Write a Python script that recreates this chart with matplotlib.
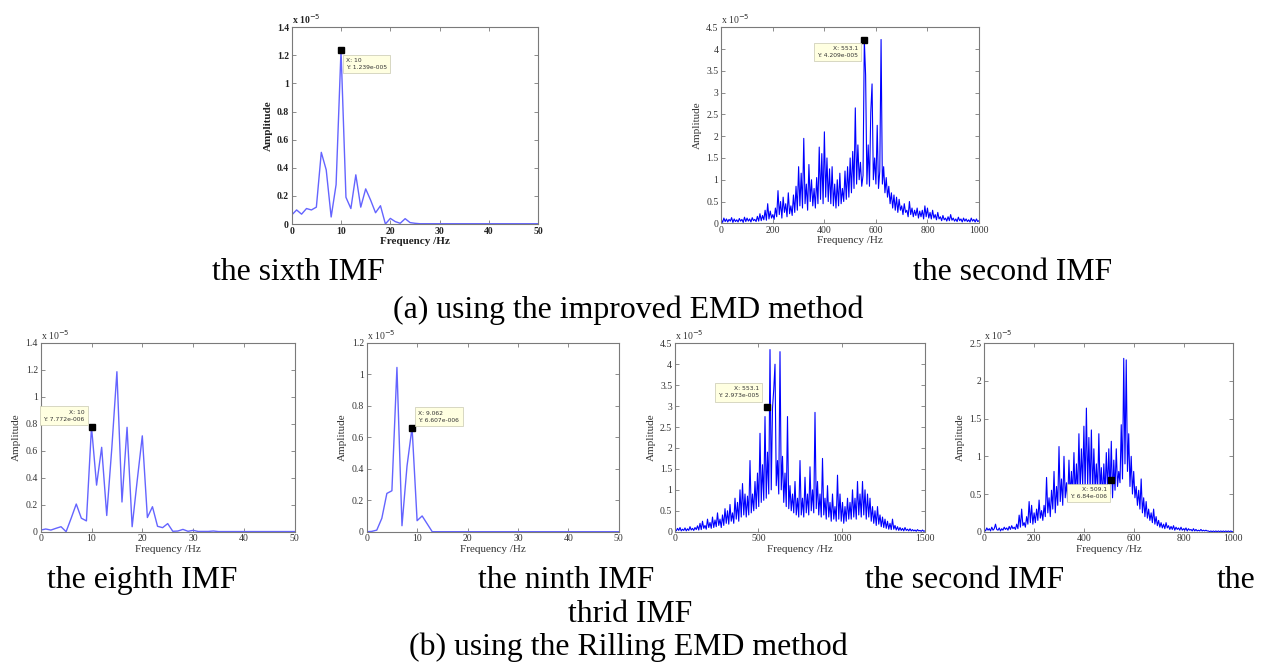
import matplotlib
matplotlib.use("Agg")
import matplotlib.pyplot as plt
from matplotlib.ticker import FuncFormatter

# ---------------- data (amplitudes in units of 1e-5) ----------------
# (a) improved EMD, sixth IMF : 0..50 Hz, 1 Hz step
f_sixth = list(range(0, 51))
a_sixth = [0.064, 0.10, 0.07, 0.11, 0.10, 0.12, 0.51, 0.385, 0.05, 0.28,
           1.239, 0.19, 0.11, 0.35, 0.12, 0.25, 0.17, 0.08, 0.13, 0.0,
           0.04, 0.017, 0.005, 0.038, 0.01, 0.005, 0.002, 0.002, 0.002, 0.002,
           0.002, 0.002, 0.002, 0.002, 0.002, 0.002, 0.002, 0.002, 0.002, 0.002,
           0.002, 0.002, 0.002, 0.002, 0.002, 0.002, 0.002, 0.002, 0.002, 0.002,
           0.002]

# (a) improved EMD, second IMF : 0..1000 Hz, 5 Hz step
f_second_a = [i * 5 for i in range(201)]
a_second_a = [
    0.08, 0.02, 0.12, 0.04, 0.10, 0.03, 0.09, 0.05, 0.13, 0.02,
    0.10, 0.04, 0.08, 0.03, 0.11, 0.05, 0.09, 0.02, 0.14, 0.04,
    0.12, 0.05, 0.10, 0.03, 0.13, 0.06, 0.09, 0.04, 0.16, 0.05,
    0.22, 0.06, 0.18, 0.08, 0.30, 0.07, 0.45, 0.10, 0.28, 0.12,
    0.20, 0.09, 0.35, 0.15, 0.75, 0.20, 0.50, 0.12, 0.60, 0.25,
    0.45, 0.15, 0.70, 0.22, 0.40, 0.18, 0.65, 0.25, 0.85, 0.30,
    1.30, 0.40, 1.15, 0.35, 1.95, 0.45, 0.90, 0.30, 1.35, 0.50,
    1.00, 0.40, 0.80, 0.35, 1.05, 0.45, 1.75, 0.55, 1.60, 0.45,
    2.10, 0.60, 1.50, 0.50, 1.25, 0.45, 1.30, 0.40, 0.90, 0.35,
    1.00, 0.40, 1.15, 0.45, 0.80, 0.50, 1.20, 0.55, 1.30, 0.60,
    1.50, 0.70, 1.65, 0.80, 2.65, 0.90, 1.80, 1.00, 1.40, 0.85,
    1.10, 4.21, 3.40, 0.90, 1.80, 0.85, 2.55, 3.20, 1.00, 1.50,
    0.90, 2.25, 0.80, 1.20, 4.22, 0.90, 1.30, 0.70, 1.05, 0.60,
    0.85, 0.45, 0.70, 0.35, 0.65, 0.30, 0.60, 0.25, 0.55, 0.30,
    0.40, 0.20, 0.45, 0.25, 0.30, 0.15, 0.50, 0.20, 0.35, 0.15,
    0.30, 0.18, 0.35, 0.12, 0.28, 0.15, 0.30, 0.10, 0.40, 0.15,
    0.35, 0.12, 0.25, 0.10, 0.30, 0.12, 0.20, 0.08, 0.25, 0.10,
    0.15, 0.06, 0.18, 0.08, 0.12, 0.05, 0.15, 0.06, 0.20, 0.07,
    0.12, 0.05, 0.10, 0.04, 0.14, 0.06, 0.10, 0.03, 0.12, 0.05,
    0.10, 0.04, 0.08, 0.03, 0.12, 0.05, 0.09, 0.03, 0.10, 0.04,
    0.06]

# (b) Rilling EMD, eighth IMF : 0..50 Hz
f_eighth = list(range(0, 51))
a_eighth = [0.012, 0.02, 0.012, 0.025, 0.037, 0.0, 0.10, 0.205, 0.10, 0.08,
            0.777, 0.345, 0.625, 0.12, 0.62, 1.185, 0.22, 0.773, 0.037, 0.38,
            0.71, 0.105, 0.185, 0.04, 0.03, 0.06, 0.003, 0.005, 0.017, 0.003,
            0.01, 0.002, 0.002, 0.002, 0.005, 0.001, 0.001, 0.001, 0.001, 0.001,
            0.001, 0.001, 0.001, 0.001, 0.001, 0.001, 0.001, 0.001, 0.001, 0.001,
            0.001]

# (b) Rilling EMD, ninth IMF : 0..50 Hz
f_ninth = list(range(0, 51))
a_ninth = [0.0, 0.002, 0.01, 0.085, 0.243, 0.26, 1.043, 0.038, 0.417, 0.662,
           0.07, 0.10, 0.05, 0.0] + [0.0] * 37

# (b) Rilling EMD, second IMF : 0..1500 Hz, 7.5 Hz step
f_second_b = [i * 7.5 for i in range(201)]
a_second_b = [
    0.05, 0.02, 0.08, 0.03, 0.10, 0.02, 0.06, 0.03, 0.09, 0.02,
    0.07, 0.03, 0.12, 0.04, 0.08, 0.03, 0.10, 0.05, 0.14, 0.04,
    0.20, 0.05, 0.25, 0.08, 0.15, 0.06, 0.30, 0.10, 0.22, 0.08,
    0.35, 0.10, 0.28, 0.12, 0.45, 0.15, 0.30, 0.10, 0.40, 0.15,
    0.55, 0.20, 0.50, 0.18, 0.65, 0.25, 0.45, 0.20, 0.80, 0.30,
    0.70, 0.25, 1.00, 0.35, 1.15, 0.40, 0.90, 0.35, 0.85, 0.40,
    1.70, 0.45, 0.90, 0.50, 1.20, 0.55, 1.40, 0.60, 2.35, 0.70,
    1.60, 0.75, 2.75, 0.80, 1.90, 0.90, 4.35, 1.00, 2.95, 3.40,
    4.00, 1.10, 1.70, 0.90, 4.30, 1.00, 1.80, 0.70, 1.40, 0.60,
    2.75, 0.55, 1.10, 0.50, 0.90, 0.45, 1.20, 0.40, 0.80, 0.35,
    1.70, 0.40, 0.80, 0.35, 1.30, 0.45, 0.90, 0.40, 1.55, 0.50,
    1.00, 0.45, 2.85, 0.55, 1.20, 0.40, 0.90, 0.35, 1.75, 0.40,
    0.80, 0.30, 1.10, 0.35, 0.70, 0.25, 0.90, 0.30, 0.60, 0.25,
    1.35, 0.30, 0.90, 0.25, 0.70, 0.20, 0.60, 0.25, 0.80, 0.30,
    0.70, 0.30, 1.00, 0.35, 0.80, 0.30, 1.20, 0.40, 0.90, 0.35,
    1.20, 0.40, 1.00, 0.30, 0.90, 0.35, 0.80, 0.25, 0.60, 0.20,
    0.50, 0.15, 0.60, 0.18, 0.40, 0.12, 0.35, 0.10, 0.30, 0.08,
    0.25, 0.06, 0.20, 0.05, 0.30, 0.06, 0.15, 0.04, 0.12, 0.03,
    0.10, 0.03, 0.08, 0.02, 0.10, 0.03, 0.06, 0.02, 0.07, 0.02,
    0.05, 0.02, 0.04, 0.01, 0.05, 0.02, 0.03, 0.01, 0.04, 0.01,
    0.02]

# (b) Rilling EMD, third IMF : 0..1000 Hz, 5 Hz step
f_third = [i * 5 for i in range(201)]
a_third = [
    0.03, 0.01, 0.05, 0.02, 0.04, 0.01, 0.06, 0.02, 0.04, 0.10,
    0.03, 0.02, 0.05, 0.01, 0.04, 0.02, 0.06, 0.03, 0.05, 0.02,
    0.07, 0.03, 0.08, 0.04, 0.06, 0.03, 0.10, 0.04, 0.22, 0.06,
    0.30, 0.08, 0.12, 0.06, 0.20, 0.10, 0.40, 0.12, 0.35, 0.10,
    0.25, 0.12, 0.30, 0.15, 0.42, 0.18, 0.28, 0.15, 0.35, 0.20,
    0.72, 0.25, 0.45, 0.20, 0.55, 0.30, 0.80, 0.25, 0.60, 0.35,
    1.13, 0.40, 0.70, 0.35, 1.00, 0.45, 0.65, 0.40, 0.95, 0.45,
    0.80, 0.50, 1.05, 0.45, 0.90, 0.50, 1.30, 0.55, 1.10, 0.60,
    1.40, 0.55, 1.64, 0.60, 1.25, 0.55, 1.35, 0.50, 1.10, 0.55,
    0.90, 0.50, 1.30, 0.55, 0.85, 0.45, 0.90, 0.50, 1.05, 0.55,
    1.10, 0.50, 1.20, 0.45, 0.95, 0.55, 1.10, 0.60, 0.80, 0.65,
    1.42, 0.70, 2.30, 0.90, 2.28, 0.80, 1.30, 0.60, 1.00, 0.50,
    0.80, 0.45, 0.60, 0.35, 0.55, 0.30, 0.70, 0.25, 0.45, 0.20,
    0.40, 0.18, 0.30, 0.15, 0.25, 0.12, 0.30, 0.10, 0.20, 0.08,
    0.15, 0.06, 0.12, 0.05, 0.10, 0.04, 0.12, 0.05, 0.08, 0.03,
    0.07, 0.03, 0.08, 0.02, 0.06, 0.03, 0.05, 0.02, 0.06, 0.02,
    0.04, 0.02, 0.05, 0.01, 0.04, 0.02, 0.03, 0.01, 0.04, 0.01,
    0.03, 0.01, 0.02, 0.01, 0.03, 0.01, 0.02, 0.01, 0.02, 0.01,
    0.01, 0.00, 0.01, 0.00, 0.01, 0.00, 0.01, 0.00, 0.01, 0.00,
    0.01, 0.00, 0.01, 0.00, 0.01, 0.00, 0.01, 0.00, 0.01, 0.00,
    0.00]

# data tips: (x, y, label text)
tip_sixth = (10, 1.239, "X: 10\nY: 1.239e-005")
tip_second_a = (553.1, 4.209, "X: 553.1\nY: 4.209e-005")
tip_eighth = (10, 0.7772, "X: 10\nY: 7.772e-006")
tip_ninth = (9.062, 0.6607, "X: 9.062\nY: 6.607e-006")
tip_second_b = (553.1, 2.973, "X: 553.1\nY: 2.973e-005")
tip_third = (509.1, 0.684, "X: 509.1\nY: 6.84e-006")

captions_top = ["the sixth IMF", "the second IMF"]
caption_a = "(a) using the improved EMD method"
captions_bottom = ["the eighth IMF", "the ninth IMF", "the second IMF", "the"]
caption_wrap = "thrid IMF"
caption_b = "(b) using the Rilling EMD method"

# ---------------- figure ----------------
W, H = 1264, 666
fig = plt.figure(figsize=(W / 100, H / 100), dpi=100)
fig.patch.set_facecolor("white")

SERIF = ["Liberation Serif", "DejaVu Serif"]


def make_ax(l, t, r, b):
    return fig.add_axes([l / W, 1 - b / H, (r - l) / W, (b - t) / H])


def fmt(v, pos):
    return "%g" % round(v, 6)


def style(ax, xlim, ylim, xticks, yticks, bold=False, tcol="#333333"):
    ax.set_xlim(*xlim)
    ax.set_ylim(*ylim)
    ax.set_xticks(xticks)
    ax.set_yticks(yticks)
    ax.xaxis.set_major_formatter(FuncFormatter(fmt))
    ax.yaxis.set_major_formatter(FuncFormatter(fmt))
    for s in ax.spines.values():
        s.set_color("#7a7a7a")
        s.set_linewidth(0.8)
    ax.tick_params(direction="in", length=3, width=0.6, color="#7a7a7a",
                   top=True, right=True, labelsize=7, pad=2, labelcolor=tcol)
    w = "bold" if bold else "normal"
    for lab in ax.get_xticklabels() + ax.get_yticklabels():
        lab.set_family(SERIF)
        lab.set_fontweight(w)
    ax.set_xlabel("Frequency /Hz", family=SERIF, fontsize=8, fontweight=w,
                  color=tcol, labelpad=1)
    ax.set_ylabel("Amplitude", family=SERIF, fontsize=8, fontweight=w,
                  color=tcol, labelpad=3)
    ax.text(0.0, 1.005, r"x 10$^{-5}$", transform=ax.transAxes, fontsize=7,
            family=SERIF, fontweight=w, color=tcol, ha="left", va="bottom")


def tip(ax, t, dx, dy, ha, va):
    x, y, s = t
    ax.plot([x], [y], marker="s", color="black", markersize=4, zorder=5)
    ax.annotate(s, xy=(x, y), xytext=(dx, dy), textcoords="offset pixels",
                ha=ha, va=va, multialignment=ha, fontsize=4.3, linespacing=1.5,
                color="#333333",
                bbox=dict(boxstyle="square,pad=0.55", fc="#ffffe1",
                          ec="#c8c8b0", lw=0.5), zorder=6)


LIGHT = "#6464ff"
DARK = "#0000ff"

# row 1
ax1 = make_ax(291.7, 27.3, 538.3, 224)
ax1.plot(f_sixth, a_sixth, color=LIGHT, lw=1.0)
style(ax1, (0, 50), (0, 1.4), [0, 10, 20, 30, 40, 50],
      [0, 0.2, 0.4, 0.6, 0.8, 1, 1.2, 1.4], bold=True, tcol="#222222")
tip(ax1, tip_sixth, 5, -8, "left", "top")

ax2 = make_ax(721.3, 27.3, 979, 223.3)
ax2.plot(f_second_a, a_second_a, color=DARK, lw=0.8)
style(ax2, (0, 1000), (0, 4.5), [0, 200, 400, 600, 800, 1000],
      [0, 0.5, 1, 1.5, 2, 2.5, 3, 3.5, 4, 4.5])
tip(ax2, tip_second_a, -6, -6, "right", "top")

# row 2
ax3 = make_ax(40.7, 342.7, 294.7, 531.7)
ax3.plot(f_eighth, a_eighth, color=LIGHT, lw=1.0)
style(ax3, (0, 50), (0, 1.4), [0, 10, 20, 30, 40, 50],
      [0, 0.2, 0.4, 0.6, 0.8, 1, 1.2, 1.4])
tip(ax3, tip_eighth, -7, 5, "right", "bottom")

ax4 = make_ax(366.7, 342.7, 618.7, 531.7)
ax4.plot(f_ninth, a_ninth, color=LIGHT, lw=1.0)
style(ax4, (0, 50), (0, 1.2), [0, 10, 20, 30, 40, 50],
      [0, 0.2, 0.4, 0.6, 0.8, 1, 1.2])
tip(ax4, tip_ninth, 6, 5, "left", "bottom")

ax5 = make_ax(675, 343.3, 925, 531.7)
ax5.plot(f_second_b, a_second_b, color=DARK, lw=0.8)
style(ax5, (0, 1500), (0, 4.5), [0, 500, 1000, 1500],
      [0, 0.5, 1, 1.5, 2, 2.5, 3, 3.5, 4, 4.5])
tip(ax5, tip_second_b, -8, 9, "right", "bottom")

ax6 = make_ax(984.3, 343.3, 1233.3, 531.7)
ax6.plot(f_third, a_third, color=DARK, lw=0.8)
style(ax6, (0, 1000), (0, 2.5), [0, 200, 400, 600, 800, 1000],
      [0, 0.5, 1, 1.5, 2, 2.5])
tip(ax6, tip_third, -4, -7, "right", "top")

# ---------------- captions ----------------
CAP = 22.9


def cap(s, xpx, ypx):
    fig.text(xpx / W, 1 - ypx / H, s, family=SERIF, fontsize=CAP,
             ha="left", va="baseline", color="black")


cap(captions_top[0], 212, 280)
cap(captions_top[1], 913, 280)
cap(caption_a, 393, 318)
cap(captions_bottom[0], 47, 588)
cap(captions_bottom[1], 478, 588)
cap(captions_bottom[2], 865, 588)
cap(captions_bottom[3], 1217, 588)
cap(caption_wrap, 568, 622)
cap(caption_b, 409, 655)

fig.savefig("out.png", dpi=100)
